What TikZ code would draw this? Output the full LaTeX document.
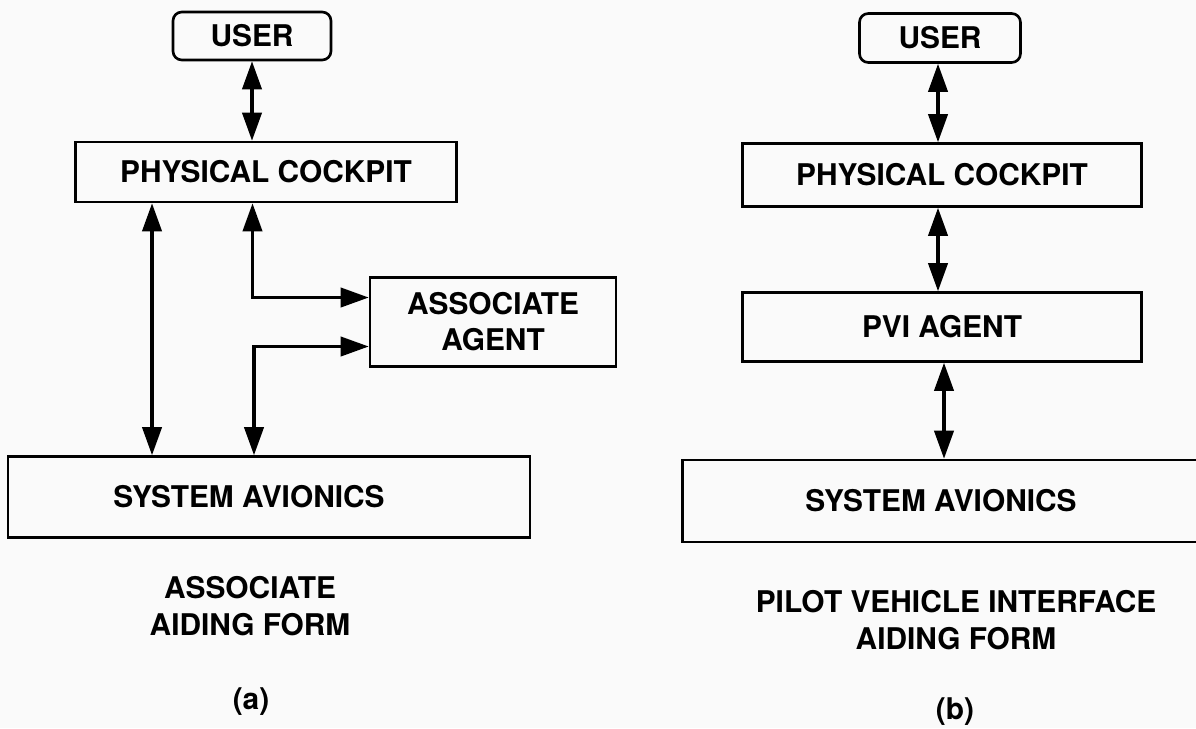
\documentclass[tikz,border=0pt]{standalone}
\usepackage{fontspec}
\setmainfont{TeX Gyre Heros}
\usetikzlibrary{arrows.meta, positioning}

\begin{document}
\begin{tikzpicture}[
    x=0.02cm, y=-0.02cm,
    font=\fontsize{17}{20.5}\selectfont\bfseries,
    box/.style={draw, line width=1.5pt, inner sep=0pt, align=center},
    arr/.style={{Triangle[length=16pt, width=11pt]}-{Triangle[length=16pt, width=11pt]},
      line width=1.8pt},
    caption/.style={align=center, font=\fontsize{17}{21}\selectfont\bfseries}
  ]
  \fill[black!2] (0,0) rectangle (1196,728);
  \useasboundingbox (0,0) rectangle (1196,728);

  % (a) associate aiding form
  \node[box, rounded corners=5pt, minimum width=3.16cm, minimum height=0.96cm]
    (userA) at (252,36) {USER};
  \node[box, minimum width=7.62cm, minimum height=1.2cm] (cockA) at (266,172) {PHYSICAL COCKPIT};
  \node[box, minimum width=4.92cm, minimum height=1.78cm] (assoc) at (493,322) {ASSOCIATE\\AGENT};
  \node[box, minimum width=10.44cm, minimum height=1.62cm] (sysA) at (269,497)
    {SYSTEM AVIONICS\hspace*{0.8cm}};

  \draw[arr] (userA.south) -- (userA.south |- cockA.north);
  \draw[arr] ([xshift=-2.28cm]cockA.south) -- ([xshift=-2.28cm]cockA.south |- sysA.north);
  \draw[arr] ([xshift=-0.27cm]cockA.south) |- ([yshift=0.49cm]assoc.west);
  \draw[arr] ([xshift=-0.3cm]sysA.north) |- ([yshift=-0.49cm]assoc.west);

  \node[caption] (capA) at (250,606) {ASSOCIATE\\AIDING FORM};
  \node (labA) at (251,702) {(a)};

  % (b) pilot vehicle interface aiding form
  \node[box, rounded corners=5pt, minimum width=3.22cm, minimum height=0.98cm]
    (userB) at (940,38) {USER};
  \node[box, minimum width=7.98cm, minimum height=1.26cm] (cockB) at (942,175) {PHYSICAL COCKPIT};
  \node[box, minimum width=7.98cm, minimum height=1.38cm] (pvi) at (942,327) {PVI AGENT};
  \node[box, minimum width=10.34cm, minimum height=1.64cm] (sysB) at (941,501) {SYSTEM AVIONICS};

  \draw[arr] ([xshift=-0.04cm]userB.south) -- ([xshift=-0.04cm]userB.south |- cockB.north);
  \draw[arr] ([xshift=-0.08cm]cockB.south) -- ([xshift=-0.08cm]cockB.south |- pvi.north);
  \draw[arr] ([xshift=0.04cm]pvi.south) -- ([xshift=0.04cm]pvi.south |- sysB.north);

  \node[caption] (capB) at (956,620) {PILOT VEHICLE INTERFACE\\AIDING FORM};
  \node (labB) at (955,712) {(b)};
\end{tikzpicture}
\end{document}
